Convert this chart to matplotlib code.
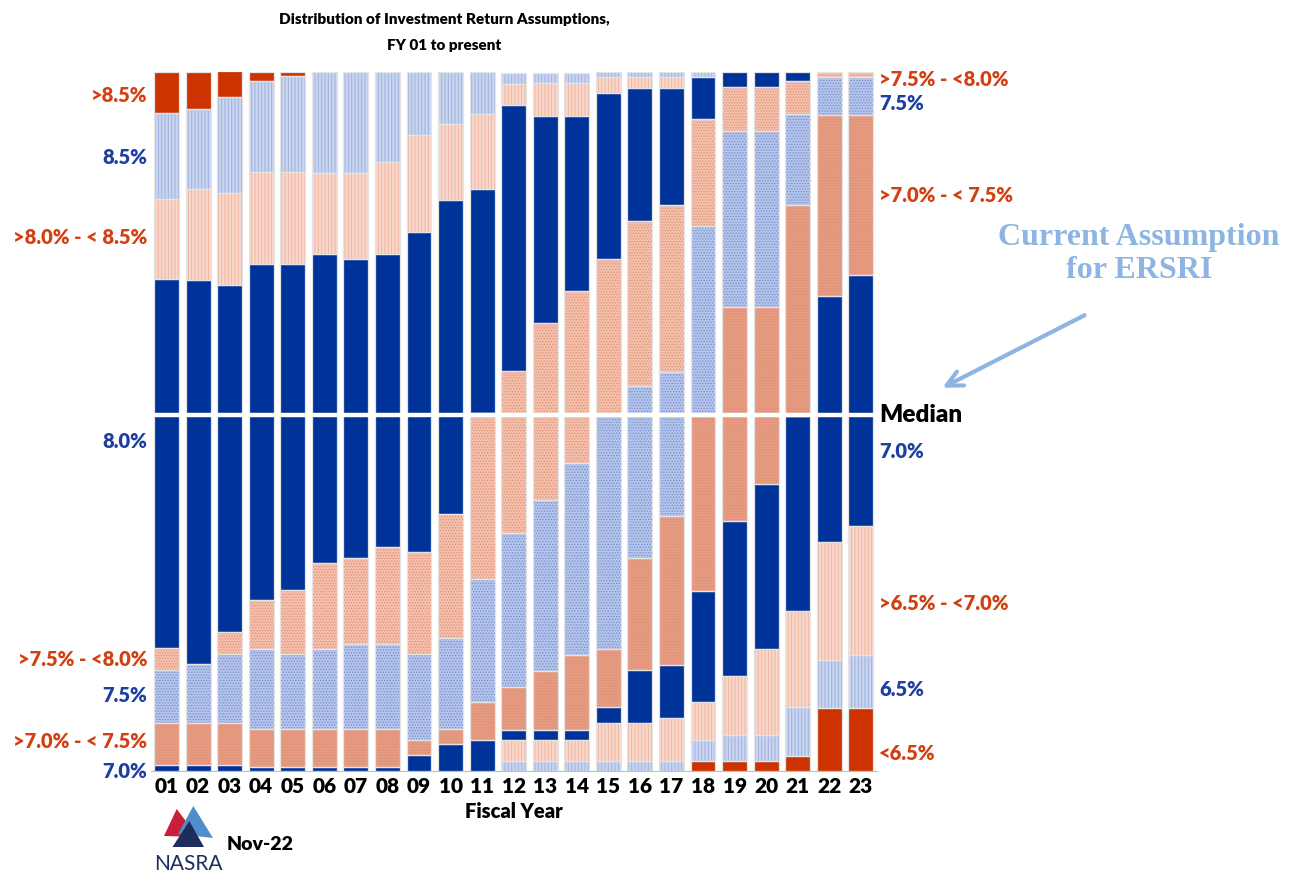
import matplotlib
matplotlib.use("Agg")
import matplotlib.pyplot as plt
import numpy as np
from matplotlib.patches import Polygon, FancyArrowPatch

# share of plans (%) by assumed return, fiscal years 01-23
years = ['01', '02', '03', '04', '05', '06', '07', '08', '09', '10', '11', '12',
         '13', '14', '15', '16', '17', '18', '19', '20', '21', '22', '23']

lt65 = [0, 0, 0, 0, 0, 0, 0, 0, 0, 0, 0, 0, 0, 0, 0, 0, 0, 1.4, 1.4, 1.4, 2.2, 9.0, 9.0]
p65 = [0, 0, 0, 0, 0, 0, 0, 0, 0, 0, 0, 1.4, 1.4, 1.4, 1.4, 1.4, 1.4, 3.1, 3.8, 3.8, 6.9, 6.9, 7.6]
b65_70 = [0, 0, 0, 0, 0, 0, 0, 0, 0, 0, 0, 3.1, 3.1, 3.1, 5.4, 5.4, 6.2, 5.3, 8.4, 12.3, 13.8, 16.8, 18.4]
p70 = [0.8, 0.8, 0.8, 0.6, 0.6, 0.6, 0.6, 0.6, 2.3, 3.8, 4.5, 1.4, 1.4, 1.4, 2.3, 7.6, 7.5, 16.0, 22.2, 23.6, 27.8, 35.2, 35.9]
b70_75 = [6.1, 6.1, 6.1, 5.4, 5.4, 5.4, 5.4, 5.4, 2.2, 2.2, 5.3, 6.1, 8.4, 10.7, 8.3, 16.0, 21.4, 24.9, 30.5, 25.2, 30.2, 25.9, 22.9]
p75 = [7.6, 8.4, 9.8, 11.4, 10.7, 11.4, 12.2, 12.2, 12.2, 13.0, 17.6, 22.1, 24.4, 27.5, 33.3, 24.6, 20.6, 27.2, 25.2, 25.2, 13.0, 5.4, 5.4]
b75_80 = [3.1, 0, 3.2, 7.0, 9.2, 12.3, 12.3, 13.9, 14.6, 17.7, 23.8, 23.1, 25.3, 24.5, 22.5, 23.6, 23.8, 15.3, 6.3, 6.3, 4.7, 0.7, 0.7]
p80 = [52.7, 54.9, 49.6, 48.1, 46.6, 44.3, 42.7, 41.9, 45.8, 45.0, 32.0, 38.1, 29.7, 25.1, 23.7, 19.1, 16.7, 6.0, 2.1, 2.1, 1.4, 0, 0]
b80_85 = [11.5, 13.0, 13.1, 13.1, 13.1, 11.5, 12.3, 13.1, 13.8, 10.8, 10.7, 3.0, 4.7, 4.7, 2.3, 1.6, 1.6, 0, 0, 0, 0, 0, 0]
p85 = [12.3, 11.5, 13.8, 13.0, 13.8, 14.4, 14.4, 12.9, 9.1, 7.5, 6.0, 1.5, 1.4, 1.4, 0.7, 0.7, 0.7, 0.7, 0, 0, 0, 0, 0]
gt85 = [5.9, 5.2, 3.7, 1.4, 0.6, 0, 0, 0, 0, 0, 0, 0, 0, 0, 0, 0, 0, 0, 0, 0, 0, 0, 0]

median_level = 50.9

RED = '#CC3300'
NAVY = '#003399'
LBL_RED = '#D24012'
LBL_BLUE = '#1D3FA0'

# (values, face, hatch colour, hatch)
series = [
    (lt65, RED, RED, None),
    (p65, '#C9D5EF', '#98ACDD', '|||||'),
    (b65_70, '#F8D8CC', '#EFAE97', '|||||'),
    (p70, NAVY, NAVY, None),
    (b70_75, '#E69C82', '#DD8B6F', '......'),
    (p75, '#B5C4EA', '#738ED0', '......'),
    (b75_80, '#F3C0AD', '#E58F73', '......'),
    (p80, NAVY, NAVY, None),
    (b80_85, '#F8D8CC', '#EFAE97', '|||||'),
    (p85, '#C9D5EF', '#98ACDD', '|||||'),
    (gt85, RED, RED, None),
]

plt.rcParams['font.family'] = 'Lato'
plt.rcParams['hatch.linewidth'] = 0.6
WT = 'heavy'

W, H = 1294, 875
fig = plt.figure(figsize=(12.94, 8.75), dpi=100)
ax = fig.add_axes([150.7 / W, 1 - 771 / H, (876.6 - 150.7) / W, (771 - 71.7) / H])

x = np.arange(len(years))
bottom = np.zeros(len(years))
for vals, face, hcol, hatch in series:
    v = np.array(vals, dtype=float)
    m = v > 0
    ax.bar(x[m], v[m], bottom=bottom[m], width=0.79, color=face,
           edgecolor=hcol, linewidth=0, hatch=hatch, zorder=2)
    ax.bar(x[m], v[m], bottom=bottom[m], width=0.79, fill=False,
           edgecolor='#E4E4E4', linewidth=0.9, zorder=3)
    bottom += v

ax.axhline(median_level, color='white', lw=3.2, zorder=4)

ax.set_xlim(-0.5, len(years) - 0.5)
ax.set_ylim(0, 100)
ax.set_xticks(x)
ax.set_xticklabels(years, fontsize=15, fontweight=WT)
ax.tick_params(axis='x', length=0, pad=4)
ax.set_yticks([])
for s in ['top', 'left', 'right']:
    ax.spines[s].set_visible(False)
ax.spines['bottom'].set_color('#BFBFBF')
ax.spines['bottom'].set_zorder(1)
ax.set_xlabel('Fiscal Year', fontsize=14.5, fontweight=WT, labelpad=5)


def fx(px):
    return px / W


def fy(py):
    return 1 - py / H


fig.text(fx(444), fy(19), 'Distribution of Investment Return Assumptions,',
         ha='center', va='center', fontsize=11, fontweight=WT)
fig.text(fx(444), fy(46), 'FY 01 to present',
         ha='center', va='center', fontsize=11, fontweight=WT)

left_labels = [('>8.5%', 96, LBL_RED), ('8.5%', 157, LBL_BLUE),
               ('>8.0% - < 8.5%', 237, LBL_RED), ('8.0%', 441, LBL_BLUE),
               ('>7.5% - <8.0%', 659, LBL_RED), ('7.5%', 696, LBL_BLUE),
               ('>7.0% - < 7.5%', 741, LBL_RED), ('7.0%', 771, LBL_BLUE)]
for t, yy, c in left_labels:
    fig.text(fx(147), fy(yy), t, ha='right', va='center', fontsize=14.5,
             fontweight=WT, color=c)

right_labels = [('>7.5% - <8.0%', 80, LBL_RED), ('7.5%', 104, LBL_BLUE),
                ('>7.0% - < 7.5%', 195, LBL_RED), ('7.0%', 451, LBL_BLUE),
                ('>6.5% - <7.0%', 603, LBL_RED), ('6.5%', 690, LBL_BLUE),
                ('<6.5%', 753, LBL_RED)]
for t, yy, c in right_labels:
    fig.text(fx(879), fy(yy), t, ha='left', va='center', fontsize=14.5,
             fontweight=WT, color=c)
fig.text(fx(879), fy(415), 'Median', ha='left', va='center', fontsize=17.5,
         fontweight=WT, color='black')

# callout
fig.text(fx(1139), fy(237), 'Current Assumption', ha='center', va='center',
         fontsize=23, fontweight='bold', family='Liberation Serif', color='#8DB4E2')
fig.text(fx(1139), fy(271), 'for ERSRI', ha='center', va='center',
         fontsize=23, fontweight='bold', family='Liberation Serif', color='#8DB4E2')
fig.add_artist(FancyArrowPatch((fx(1087), fy(314)), (fx(940), fy(389)),
                               transform=fig.transFigure, arrowstyle='->',
                               mutation_scale=28, lw=3, color='#8DB4E2'))

# NASRA logo
logo = [
    ([(176.7, 809), (164, 836), (198, 837)], '#C8203A'),
    ([(193.3, 806), (178, 834), (213, 838)], '#4F8ECB'),
    ([(189.3, 821), (172.5, 847), (204, 847)], '#1F2D5C'),
]
for pts, col in logo:
    fig.add_artist(Polygon([(fx(a), fy(b)) for a, b in pts], closed=True,
                           transform=fig.transFigure, color=col, lw=0))
fig.text(fx(188.5), fy(864), 'NASRA', ha='center', va='center', fontsize=15,
         color='#1F2D5C')
fig.text(fx(227), fy(844), 'Nov-22', ha='left', va='center', fontsize=14,
         fontweight=WT, color='black')

fig.savefig('out.png', dpi=100)
